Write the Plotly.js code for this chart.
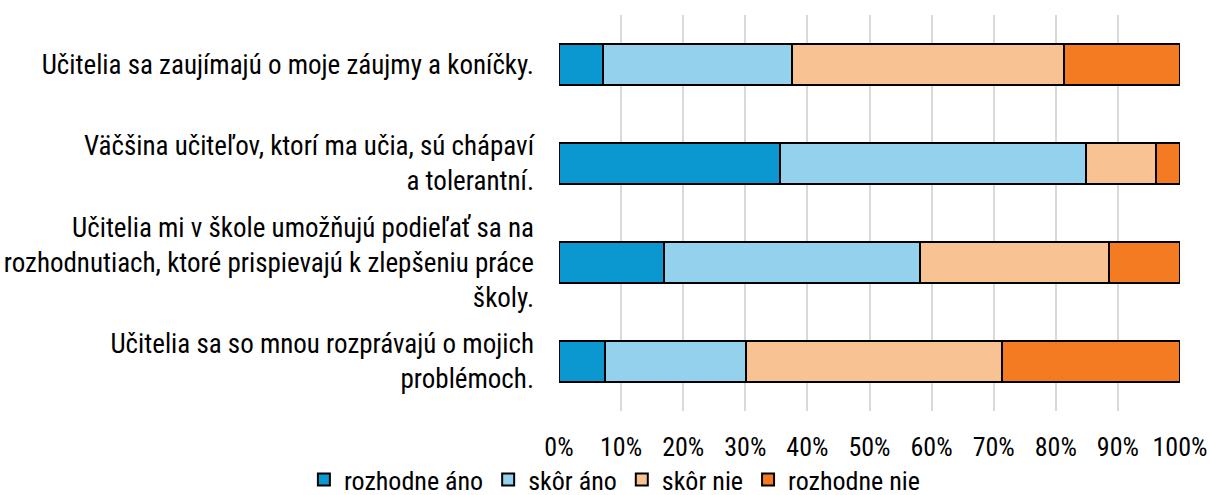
<!DOCTYPE html>
<html><head><meta charset="utf-8">
<script src="https://cdn.plot.ly/plotly-3.0.1.min.js"></script>
<style>html,body{margin:0;padding:0;background:#fff}#chart{width:1210px;height:495px}</style>
</head><body><div id="chart"></div>
<script>
const categories = [
  "Učitelia sa zaujímajú o moje záujmy a koníčky.",
  "Väčšina učiteľov, ktorí ma učia, sú chápaví<br>a tolerantní.",
  "Učitelia mi v škole umožňujú podieľať sa na<br>rozhodnutiach, ktoré prispievajú k zlepšeniu práce<br>školy.",
  "Učitelia sa so mnou rozprávajú o mojich<br>problémoch."
];
const seriesNames = ["rozhodne áno", "skôr áno", "skôr nie", "rozhodne nie"];
const rozhodneAno = [7.1, 35.6, 16.9, 7.4];
const skorAno = [30.4, 49.3, 41.2, 22.7];
const skorNie = [43.8, 11.3, 30.5, 41.3];
const rozhodneNie = [18.7, 3.8, 11.4, 28.6];
const tickVals = [0,10,20,30,40,50,60,70,80,90,100];
const tickText = ["0%","10%","20%","30%","40%","50%","60%","70%","80%","90%","100%"];
const colors = ["#0b98d0", "#93d1ec", "#f9c292", "#f47b22"];
const allSeries = [rozhodneAno, skorAno, skorNie, rozhodneNie];

const FONT = "Roboto Condensed, Liberation Sans Narrow, Arial Narrow, Roboto, sans-serif";
const traces = allSeries.map((vals, i) => ({
  type: "bar", orientation: "h", name: seriesNames[i],
  x: vals, y: categories,
  marker: {color: colors[i], line: {color: "#000", width: 2}},
  width: 0.41, hoverinfo: "none"
}));

Plotly.newPlot("chart", traces, {
  width: 1210, height: 495,
  barmode: "stack",
  margin: {l: 559, r: 30, t: 15, b: 84, autoexpand: false},
  paper_bgcolor: "#fff", plot_bgcolor: "#fff",
  font: {family: FONT, size: 26, color: "#000"},
  xaxis: {range: [0, 100], tickvals: tickVals, ticktext: tickText,
    showgrid: true, gridcolor: "#d9d9d9", gridwidth: 2, zeroline: false,
    showline: false, ticks: "", ticklabelstandoff: 18, fixedrange: true,
    tickfont: {size: 26}},
  yaxis: {autorange: "reversed", showgrid: false, zeroline: false, showline: false,
    ticks: "", ticklabelstandoff: 24, fixedrange: true, tickfont: {size: 27}},
  legend: {orientation: "h", x: 0.09, xanchor: "center", y: -0.114, yanchor: "top",
    bgcolor: "rgba(0,0,0,0)", font: {size: 26}, traceorder: "normal", itemwidth: 30},
  showlegend: true
}, {displayModeBar: false, staticPlot: true});
</script></body></html>
